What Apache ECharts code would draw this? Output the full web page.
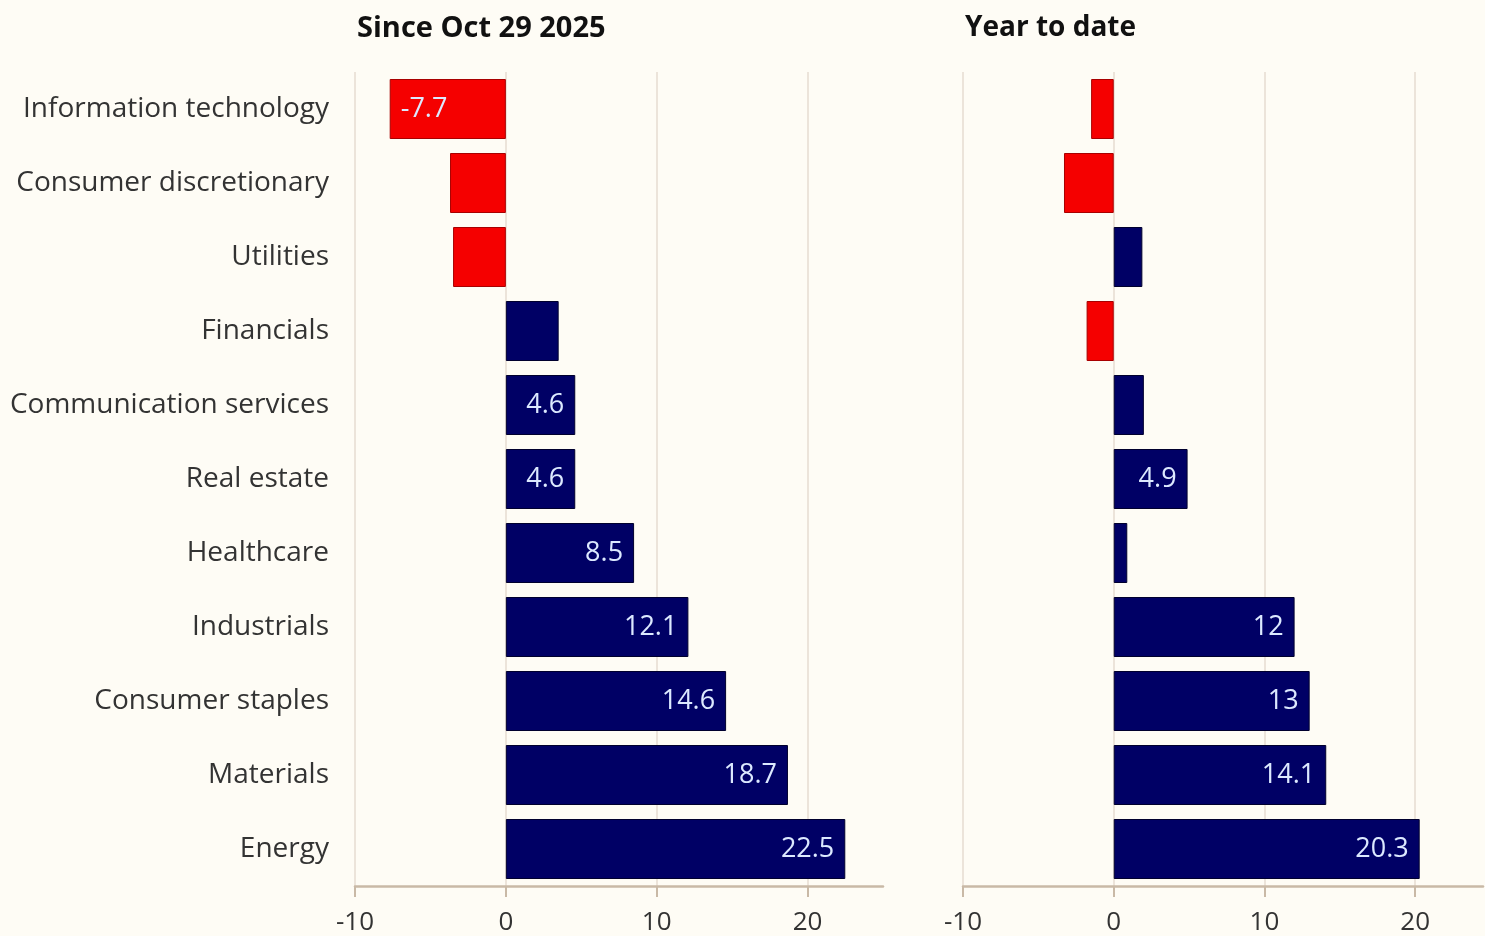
<!DOCTYPE html>
<html>
<head>
<meta charset="utf-8">
<script src="https://cdn.jsdelivr.net/npm/echarts@6/dist/echarts.min.js"></script>
<style>
  html, body { margin: 0; padding: 0; background: #fefcf5; }
  #chart { width: 1485px; height: 936px; }
</style>
</head>
<body>
<div id="chart"></div>
<script>
// Sector performance, % change
const sectors = [
  'Information technology', 'Consumer discretionary', 'Utilities', 'Financials',
  'Communication services', 'Real estate', 'Healthcare', 'Industrials',
  'Consumer staples', 'Materials', 'Energy'
];
const sinceOct29 = [-7.7, -3.7, -3.5, 3.5, 4.6, 4.6, 8.5, 12.1, 14.6, 18.7, 22.5];
const sinceOct29Labelled = [true, false, false, false, true, true, true, true, true, true, true];
const yearToDate = [-1.5, -3.3, 1.9, -1.8, 2.0, 4.9, 0.9, 12, 13, 14.1, 20.3];
const yearToDateLabelled = [false, false, false, false, false, true, false, true, true, true, true];
const tickValues = [-10, 0, 10, 20];
const panelTitles = ['Since Oct 29 2025', 'Year to date'];

const FONT = '"Open Sans", Lato, sans-serif';
const RED = '#f50000', RED_EDGE = '#a80000';
const NAVY = '#000065', NAVY_EDGE = '#00002e';
const GRID_COLOR = '#e6ddd0';
const AXIS_COLOR = '#c9b9a6';
const TEXT = '#333333';

function barData(values, labelled) {
  return values.map((v, i) => ({
    value: v,
    itemStyle: {
      color: v < 0 ? RED : NAVY,
      borderColor: v < 0 ? RED_EDGE : NAVY_EDGE,
      borderWidth: 1
    },
    label: {
      show: labelled[i],
      position: v < 0 ? 'insideLeft' : 'insideRight',
      distance: 11
    }
  }));
}

function xAxisFor(gridIndex, max) {
  return {
    type: 'value', gridIndex, min: -10, max, interval: 10,
    axisLine: { show: true, onZero: false, lineStyle: { color: AXIS_COLOR, width: 2.5 } },
    axisTick: { show: true, length: 11, lineStyle: { color: AXIS_COLOR, width: 2 }, customValues: tickValues },
    axisLabel: {
      customValues: tickValues, color: TEXT, fontSize: 26, fontFamily: FONT, margin: 24,
      formatter: v => String(v)
    },
    splitLine: { show: true, lineStyle: { color: [GRID_COLOR, GRID_COLOR, GRID_COLOR, GRID_COLOR, 'rgba(0,0,0,0)'], width: 1.5 } }
  };
}

function yAxisFor(gridIndex, showLabels) {
  return {
    type: 'category', gridIndex, data: sectors, inverse: true,
    axisLine: { show: false }, axisTick: { show: false },
    axisLabel: { show: showLabels, color: TEXT, fontSize: 28, fontWeight: 500, fontFamily: FONT, margin: 26 }
  };
}

const labelStyle = {
  color: '#dce9ff', fontSize: 27, fontWeight: 500, fontFamily: FONT,
  formatter: p => String(p.value)
};

const chart = echarts.init(document.getElementById('chart'), null, { renderer: 'canvas' });
chart.setOption({
  backgroundColor: '#fefcf5',
  animation: false,
  title: [
    { text: panelTitles[0], left: 352, top: 9, textStyle: { fontFamily: FONT, fontSize: 29, fontWeight: 'bold', color: '#111111' } },
    { text: panelTitles[1], left: 960, top: 9, textStyle: { fontFamily: FONT, fontSize: 28, fontWeight: 'bold', color: '#111111' } }
  ],
  grid: [
    { left: 355, width: 528, top: 72, height: 814 },
    { left: 963, width: 520, top: 72, height: 814 }
  ],
  xAxis: [xAxisFor(0, 25), xAxisFor(1, 24.5)],
  yAxis: [yAxisFor(0, true), yAxisFor(1, false)],
  series: [
    {
      type: 'bar', xAxisIndex: 0, yAxisIndex: 0, barWidth: 60,
      data: barData(sinceOct29, sinceOct29Labelled),
      label: labelStyle
    },
    {
      type: 'bar', xAxisIndex: 1, yAxisIndex: 1, barWidth: 60,
      data: barData(yearToDate, yearToDateLabelled),
      label: labelStyle
    }
  ]
});
</script>
</body>
</html>
